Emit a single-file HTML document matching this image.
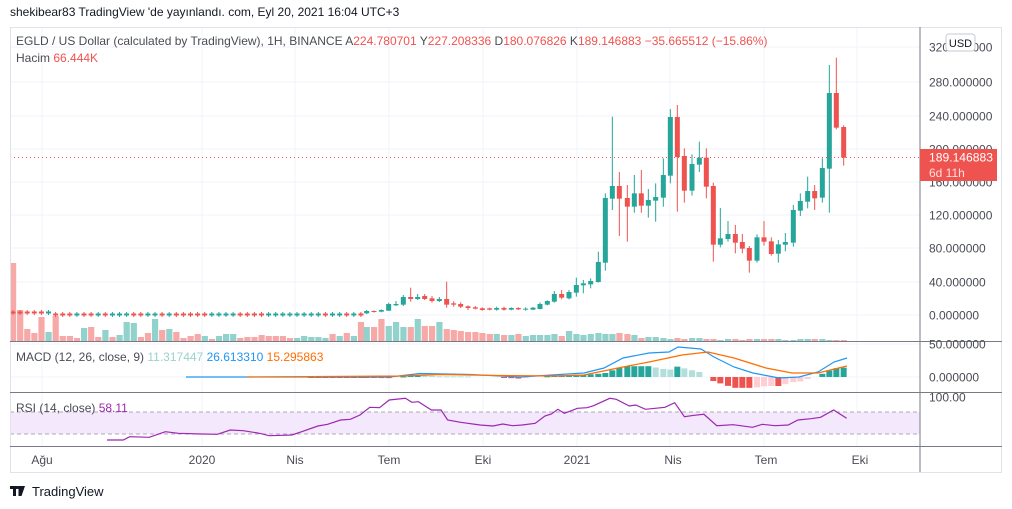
<!DOCTYPE html>
<html><head><meta charset="utf-8"><style>
html,body{margin:0;padding:0;background:#fff;width:1012px;height:509px;overflow:hidden}
svg{display:block;font-family:"Liberation Sans",sans-serif}
</style></head><body>
<svg id="c" width="1012" height="509" xmlns="http://www.w3.org/2000/svg"></svg>
<script>
var S=document.getElementById('c'),h='';
var G='#26a69a',R='#ef5350',GL='#92d2cc',RL='#f7a9a7';
function L(x1,y1,x2,y2,c,w,d){h+='<line x1="'+x1+'" y1="'+y1+'" x2="'+x2+'" y2="'+y2+'" stroke="'+c+'" stroke-width="'+(w||1)+'"'+(d?' stroke-dasharray="'+d+'"':'')+'/>';}
function Rc(x,y,w,hh,c){h+='<rect x="'+x+'" y="'+y+'" width="'+w+'" height="'+Math.max(hh,1)+'" fill="'+c+'"/>';}
function T(x,y,t,c,s,a){h+='<text x="'+x+'" y="'+y+'" fill="'+c+'" font-size="'+(s||12)+'"'+(a?' text-anchor="'+a+'"':'')+'>'+t+'</text>';}
var vx=[42,202,295,389,483,577,670,764,857];
vx.forEach(function(x){L(x,27,x,447,'#f0f3fa');});
[47,82,116,149,182,215,248,282,315].forEach(function(y){L(10,y,920,y,'#f0f3fa');});
L(10,344,920,344,'#f0f3fa');L(10,377,920,377,'#f0f3fa');
Rc(10,412,910,22,'#f3e8fc');
L(10,412,920,412,'#b0a8b8',1,'4,3');L(10,434,920,434,'#b0a8b8',1,'4,3');
var C=[];
var pat='RRRRRGRRRGRRGRGGGRRGGRGRRRRRGGGGRRRRGGGGGGGGRGGRG';
var n=0;
for(var x=13;x<362;x+=7.1){var c=pat[n%pat.length]=='G'?G:R;var yy=n<6?311.5:313.5;C.push([x,yy,yy+2,c,yy-1.5,yy+3.5]);n++;}
var lz=[[20,633,640,G,630,642],[42,633,636,R,631,638],[64,630,635,G,628,637],[86,612,632,G,608,633],[108,612,616,G,603,618],[130,591,614,G,585,618],[152,591,597,R,563,605],[173,591,597,G,582,600],[194,588,597,R,582,600],[216,595,603,R,588,608],[238,597,603,G,591,606],[260,597,614,R,545,623],[281,610,614,R,604,620],[302,612,620,R,607,624],[324,619,624,R,616,630],[346,622,626,R,618,628],[367,625,630,R,622,632],[389,625,629,R,623,631],[410,624,629,G,620,632],[432,624,629,R,620,632],[454,624,629,G,622,631],[475,624,628,R,622,630],[497,626,629,G,622,632],[519,623,629,G,621,630],[540,612,627,G,607,628],[562,603,614,G,601,616],[583,582,605,G,573,608],[605,582,593,R,570,598],[627,576,595,G,570,598],[649,555,578,G,533,590]];
lz.forEach(function(a){C.push([360+a[0]/3,100+a[1]/3,100+a[2]/3,a[3],100+a[4]/3,100+a[5]/3]);});
var rz=[[10,700,706,G,690,730],[32,693,703,G,685,715],[55,636,696,G,605,698],[76,444,638,G,430,662],[97,408,446,G,200,480],[118,408,446,R,366,558],[142,444,470,R,405,575],[163,430,470,G,375,488],[184,430,467,R,360,488],[205,450,467,G,417,503],[227,441,452,G,400,515],[250,375,443,G,325,470],[271,201,377,G,177,400],[292,201,321,R,165,485],[313,318,422,R,295,458],[336,342,422,G,313,437],[358,323,344,G,275,366],[379,323,410,R,295,445],[400,408,584,R,398,635],[421,565,584,G,474,592],[444,552,567,G,513,575],[466,552,578,R,525,610],[487,576,596,R,552,610],[508,594,632,R,588,668],[531,562,632,G,553,638],[552,562,575,R,513,587],[574,574,612,R,562,617],[595,583,611,G,570,638],[616,576,584,G,549,604],[640,480,578,G,465,590],[661,453,482,G,430,498],[683,423,455,G,380,475],[704,423,445,R,405,480],[727,354,443,G,325,458],[748,129,356,G,45,488],[769,129,233,R,23,238],[791,231,323,R,226,347]];
rz.forEach(function(a){C.push([580+a[0]/3,50+a[1]/3,50+a[2]/3,a[3],50+a[4]/3,50+a[5]/3]);});
var vtop=[263,310,329,333,317,332,316,336,336,338,328,327,337,330,337,335,322,323,337,333,319,330,329,332,338,336,334,336,339,336,334,334,338,337,337,335,336,336,336,338,338,336,337,337,338,334,336,333,336,322,327,327,319,326];
var vcol='RRRRRGRRRRGRRGRGGGRRGRGRRRRGRGGGRRRRRRRRGGGGGRGRGRGRRGGGGGGRRRRRRRRGGGGRGRGGGGGGGGGGGGRRGGRRRGGGRRRRRGGGGGGGRGGGRRR';
C.forEach(function(c,i){
 var vt;
 if(i<vtop.length)vt=vtop[i];
 else{var j=i-vtop.length;var arr=[322,327,327,319,326,326,322,329,330,331,332,332,333,334,334,335,335,334,336,335,335,335,334,336,331,334,335,334,333,334,334,333,334,335,338,337,337,338,339,338,339,338,338,339,339,340,339,339,340,339,339,339,339,339,340,340,339,339,339,339,340,340,340,339,340,340,339,339,339,339,340];vt=arr[j]||339;}
 var col=(i<vtop.length?vcol[i]=='G':c[3]==G)?GL:RL;
 Rc(c[0]-3,vt,6.2,341-vt,col);
});
C.forEach(function(c){L(c[0],c[4],c[0],c[5],c[3]);Rc(c[0]-2.5,c[1],5,c[2]-c[1],c[3]);});
L(10,157.5,920,157.5,R,1,'1,3');
var B=[[186,377],[390,377],[420,373.5],[470,374.5],[520,377],[584,373],[604,368],[623,358],[649,353],[669,352],[678,347],[701,349],[714,357],[734,367],[753,373],[779,378],[799,377],[818,372],[834,362],[847,358]];
var O=[[247,377],[400,376],[440,374.5],[500,375.5],[560,376],[584,375],[623,367],[649,362],[682,355],[708,352],[734,358],[766,368],[792,373],[818,373],[847,366]];
function interp(P,x){if(x<P[0][0])return null;for(var i=1;i<P.length;i++){if(x<=P[i][0]){var t=(x-P[i-1][0])/(P[i][0]-P[i-1][0]);return P[i-1][1]+t*(P[i][1]-P[i-1][1]);}}return null;}
var prev=0;
C.forEach(function(c){var b=interp(B,c[0]),o=interp(O,c[0]);if(b==null||o==null)return;var d=(o-b)*1.2;var col;
 if(d>=0)col=d>=prev?G:'#b2dfdb';else col=d<=prev?R:'#ffcdd2';prev=d;
 if(Math.abs(d)<0.5)return;Rc(c[0]-3,d>0?377-d:377,6,Math.abs(d),col);});
function poly(P,c,w){h+='<polyline fill="none" stroke="'+c+'" stroke-width="'+w+'" points="'+P.map(function(p){return p[0].toFixed(1)+','+p[1].toFixed(1)}).join(' ')+'"/>';}
poly(B,'#2196f3',1.2);poly(O,'#ff6d00',1.2);
var RZ=[[165,300],[190,300],[200,290],[230,292],[255,275],[275,280],[310,282],[335,283],[355,270],[375,272],[400,280],[415,287],[450,285],[465,275],[490,258],[505,253],[525,240],[540,238],[555,225],[570,202],[585,203],[600,180],[625,175],[635,187],[645,185],[665,210],[680,210],[690,240],[710,247],[740,255],[760,258],[775,252],[790,257],[805,255],[825,250],[840,228],[850,222],[860,208],[870,220],[890,205],[905,203],[915,197],[940,175],[950,178],[970,198],[980,195],[995,208],[1010,205],[1025,202],[1040,188],[1055,230],[1070,226],[1085,223],[1105,257],[1130,254],[1160,262],[1175,253],[1195,257],[1215,255],[1230,240],[1250,236],[1265,232],[1285,210],[1305,235]];
poly(RZ.map(function(p){return[p[0]/1.5415,340+p[1]/3]}),'#9c27b0',1.2);
h+='<rect x="10.5" y="27.5" width="991" height="445" fill="none" stroke="#e0e3eb"/>';
L(920,27,920,472,'#787b86');
L(10,341.5,1002,341.5,'#787b86');L(10,392.5,1002,392.5,'#787b86');L(10,446.5,1002,446.5,'#787b86');
var pl=[[47,'320.000000'],[82,'280.000000'],[116,'240.000000'],[149,'200.000000'],[182,'160.000000'],[215,'120.000000'],[248,'80.000000'],[282,'40.000000'],[315,'0.000000'],[344,'50.000000'],[377,'0.000000'],[397,'100.00']];
pl.forEach(function(p){T(929,p[0]+4.5,p[1],'#4a4c55',12);});
h+='<rect x="946" y="34" width="29" height="17" rx="3" fill="#fff" stroke="#c8cad2"/>';T(960.5,47,'USD','#131722',11,'middle');
Rc(920,149,77,32,R);
h+='<text x="929" y="161.5" fill="#fff" font-size="12" textLength="64" lengthAdjust="spacingAndGlyphs">189.146883</text>';
T(929,177,'6d 11h','#fde0df',12);
var tl=[[42,'Ağu'],[202,'2020'],[295,'Nis'],[389,'Tem'],[483,'Eki'],[577,'2021'],[673,'Nis'],[766,'Tem'],[860,'Eki']];
tl.forEach(function(p){T(p[0],464,p[1],'#4a4c55',12,'middle');});
T(10,16,'shekibear83 TradingView \'de yayınlandı. com, Eyl 20, 2021 16:04 UTC+3','#131722',12);
h+='<text x="16" y="45" font-size="12" fill="#4a4c55">EGLD / US Dollar (calculated by TradingView), 1H, BINANCE  A<tspan fill="'+R+'">224.780701</tspan>  Y<tspan fill="'+R+'">227.208336</tspan>  D<tspan fill="'+R+'">180.076826</tspan>  K<tspan fill="'+R+'">189.146883</tspan>  <tspan fill="'+R+'">−35.665512 (−15.86%)</tspan></text>';
h+='<text x="16" y="62" font-size="12" fill="#4a4c55">Hacim  <tspan fill="'+R+'">66.444K</tspan></text>';
h+='<text x="16" y="361" font-size="12" fill="#4a4c55">MACD (12, 26, close, 9)  <tspan fill="#9ad3cc">11.317447</tspan>  <tspan fill="#2196f3">26.613310</tspan>  <tspan fill="#ff6d00">15.295863</tspan></text>';
h+='<text x="16" y="412" font-size="12" fill="#4a4c55">RSI (14, close)  <tspan fill="#9c27b0">58.11</tspan></text>';
Rc(10,486,7,3,'#131722');Rc(13,486,3,10,'#131722');h+='<polygon points="18.5,486 25,486 21.5,496 18.5,496" fill="#131722"/><circle cx="18" cy="487.5" r="1.5" fill="#131722"/>';
T(32,496,'TradingView','#131722',13);
S.innerHTML=h;
</script>
</body></html>
